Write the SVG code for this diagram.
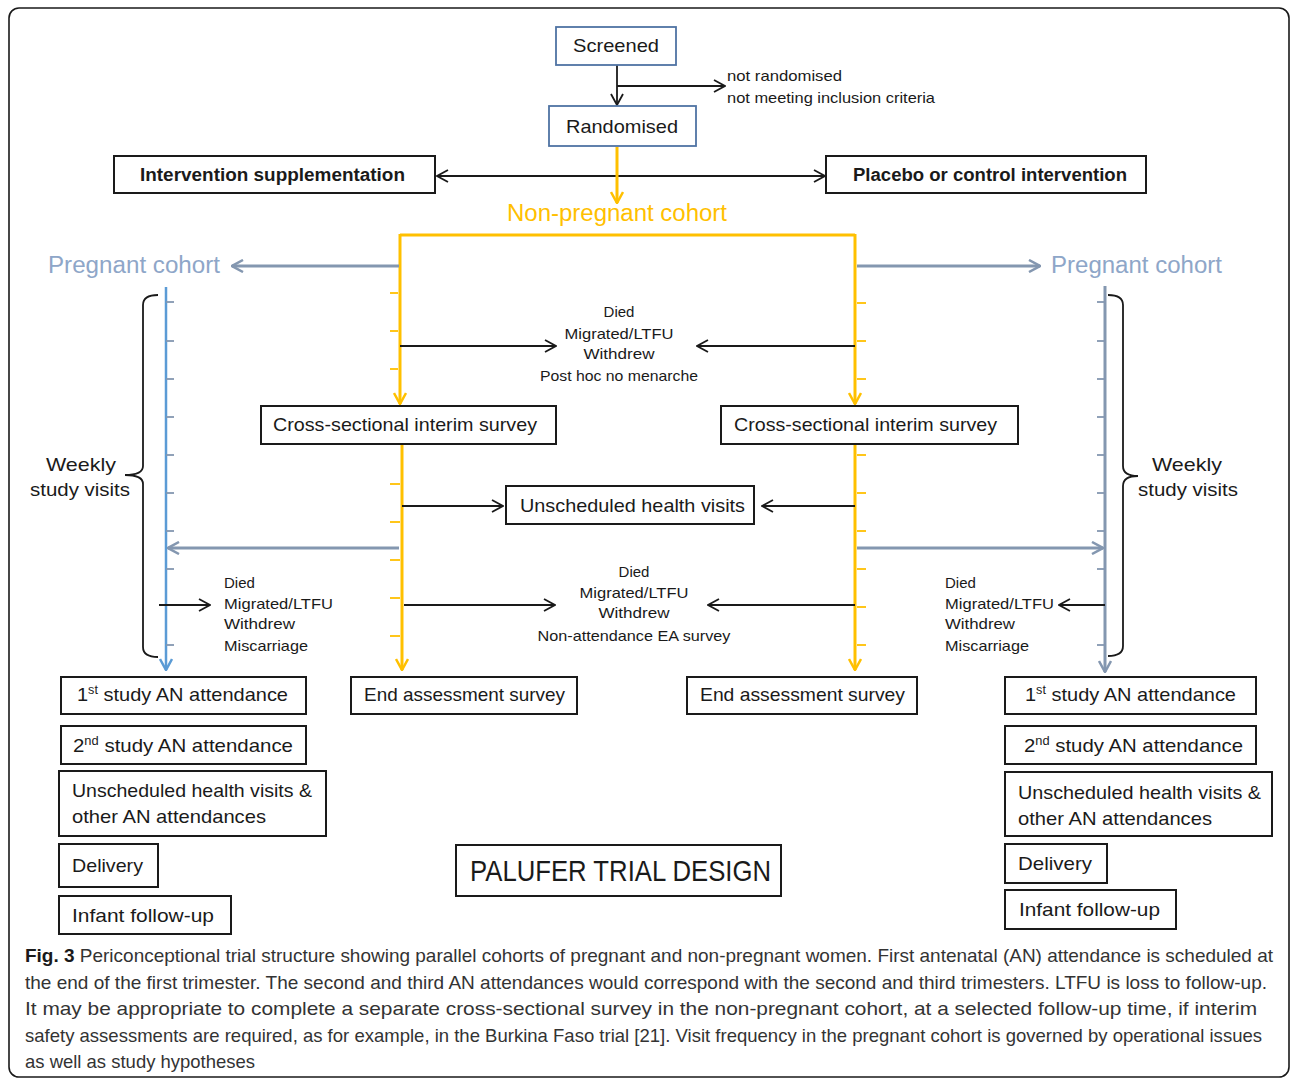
<svg xmlns="http://www.w3.org/2000/svg" width="1292" height="1080" viewBox="0 0 1292 1080">
<style>
text{font-family:"Liberation Sans",Arial,sans-serif;fill:#1a1a1a}
.box{fill:#fff;stroke:#1a1a1a;stroke-width:2}
.bbox{fill:#fff;stroke:#4f73a3;stroke-width:1.8}
.lbl{font-size:19px}
.bold{font-weight:bold;font-size:18px}
.sm{font-size:15px}
.cap{font-size:19px;fill:#333}
.blk{stroke:#1a1a1a;stroke-width:1.8;fill:none}
.yel{stroke:#FFC000;stroke-width:3;fill:none}
.gry{stroke:#8497B0;stroke-width:3;fill:none}
.blu{stroke:#5B9BD5;stroke-width:2.5;fill:none}
.tk{stroke-width:1.8}
.brace{stroke:#1a1a1a;stroke-width:1.8;fill:none}
.yt{fill:#FFC000}
.pt{fill:#8EA6C8}
</style>
<defs>
<marker id="ab" viewBox="0 0 13 14" refX="12" refY="7" markerWidth="13" markerHeight="14" markerUnits="userSpaceOnUse" orient="auto-start-reverse"><path d="M1,1 L12,7 L1,13" fill="none" stroke="#1a1a1a" stroke-width="1.8"/></marker>
<marker id="ay" viewBox="0 0 13 14" refX="12" refY="7" markerWidth="13" markerHeight="14" markerUnits="userSpaceOnUse" orient="auto"><path d="M1,1 L12,7 L1,13" fill="none" stroke="#FFC000" stroke-width="2.5"/></marker>
<marker id="ag" viewBox="0 0 13 14" refX="12" refY="7" markerWidth="13" markerHeight="14" markerUnits="userSpaceOnUse" orient="auto"><path d="M1,1 L12,7 L1,13" fill="none" stroke="#8497B0" stroke-width="2.5"/></marker>
<marker id="abl" viewBox="0 0 13 14" refX="12" refY="7" markerWidth="13" markerHeight="14" markerUnits="userSpaceOnUse" orient="auto"><path d="M1,1 L12,7 L1,13" fill="none" stroke="#5B9BD5" stroke-width="2.5"/></marker>
</defs>
<rect x="9" y="8" width="1280" height="1069" rx="10" fill="#fff" stroke="#1a1a1a" stroke-width="1.6"/>

<g id="connectors">
<line class="blk" x1="617" y1="65" x2="617" y2="105" marker-end="url(#ab)"/>
<line class="blk" x1="617" y1="86" x2="725" y2="86" marker-end="url(#ab)"/>
<line class="blk" x1="437" y1="176" x2="825" y2="176" marker-start="url(#ab)" marker-end="url(#ab)"/>
<line class="yel" x1="617" y1="147" x2="617" y2="203" marker-end="url(#ay)"/>
<line class="yel" x1="400" y1="235" x2="855" y2="235"/>
<line class="yel" x1="400" y1="234" x2="400" y2="404" marker-end="url(#ay)"/>
<line class="yel" x1="855" y1="234" x2="855" y2="404" marker-end="url(#ay)"/>
<line class="yel" x1="402" y1="445" x2="402" y2="670" marker-end="url(#ay)"/>
<line class="yel" x1="855" y1="445" x2="855" y2="670" marker-end="url(#ay)"/>
<g stroke="#FFC000" class="tk">
<line x1="390" y1="293" x2="398" y2="293"/><line x1="390" y1="331" x2="398" y2="331"/><line x1="390" y1="369" x2="398" y2="369"/>
<line x1="390" y1="484" x2="400" y2="484"/><line x1="390" y1="522" x2="400" y2="522"/><line x1="390" y1="560" x2="400" y2="560"/><line x1="390" y1="598" x2="400" y2="598"/><line x1="390" y1="636" x2="400" y2="636"/>
<line x1="857" y1="303" x2="866" y2="303"/><line x1="857" y1="341" x2="866" y2="341"/><line x1="857" y1="379" x2="866" y2="379"/>
<line x1="857" y1="455" x2="866" y2="455"/><line x1="857" y1="493" x2="866" y2="493"/><line x1="857" y1="531" x2="866" y2="531"/><line x1="857" y1="569" x2="866" y2="569"/><line x1="857" y1="607" x2="866" y2="607"/><line x1="857" y1="645" x2="866" y2="645"/>
</g>
<line class="gry" x1="399" y1="266" x2="232" y2="266" marker-end="url(#ag)"/>
<line class="gry" x1="857" y1="266" x2="1040" y2="266" marker-end="url(#ag)"/>
<line class="blu" x1="166" y1="287" x2="166" y2="670" marker-end="url(#abl)"/>
<line class="gry" x1="1105" y1="286" x2="1105" y2="672" marker-end="url(#ag)"/>
<g stroke="#8497B0" class="tk">
<line x1="166" y1="302" x2="174" y2="302"/><line x1="166" y1="341" x2="174" y2="341"/><line x1="166" y1="379" x2="174" y2="379"/><line x1="166" y1="417" x2="174" y2="417"/><line x1="166" y1="455" x2="174" y2="455"/><line x1="166" y1="493" x2="174" y2="493"/><line x1="166" y1="531" x2="174" y2="531"/><line x1="166" y1="569" x2="174" y2="569"/><line x1="166" y1="645" x2="174" y2="645"/>
<line x1="1097" y1="302" x2="1105" y2="302"/><line x1="1097" y1="341" x2="1105" y2="341"/><line x1="1097" y1="379" x2="1105" y2="379"/><line x1="1097" y1="417" x2="1105" y2="417"/><line x1="1097" y1="455" x2="1105" y2="455"/><line x1="1097" y1="493" x2="1105" y2="493"/><line x1="1097" y1="531" x2="1105" y2="531"/><line x1="1097" y1="569" x2="1105" y2="569"/><line x1="1097" y1="645" x2="1105" y2="645"/>
</g>
<line class="gry" x1="399" y1="548" x2="168" y2="548" marker-end="url(#ag)"/>
<line class="gry" x1="857" y1="548" x2="1103" y2="548" marker-end="url(#ag)"/>
<line class="blk" x1="400" y1="346" x2="556" y2="346" marker-end="url(#ab)"/>
<line class="blk" x1="855" y1="346" x2="697" y2="346" marker-end="url(#ab)"/>
<line class="blk" x1="402" y1="506" x2="503" y2="506" marker-end="url(#ab)"/>
<line class="blk" x1="855" y1="506" x2="762" y2="506" marker-end="url(#ab)"/>
<line class="blk" x1="404" y1="605" x2="555" y2="605" marker-end="url(#ab)"/>
<line class="blk" x1="855" y1="605" x2="708" y2="605" marker-end="url(#ab)"/>
<line class="blk" x1="159" y1="605" x2="210" y2="605" marker-end="url(#ab)"/>
<line class="blk" x1="1105" y1="605" x2="1059" y2="605" marker-end="url(#ab)"/>
<path class="brace" d="M158,295 Q143,295 143,305 L143,466 Q143,475 125,475 Q143,475 143,484 L143,647 Q143,657 158,657"/>
<path class="brace" d="M1108,295 Q1123,295 1123,305 L1123,466 Q1123,476 1138,476 Q1123,476 1123,486 L1123,646 Q1123,656 1108,656"/>
</g>

<g id="screened"><rect class="bbox" x="556" y="27" width="120" height="38"/><text class="lbl" x="616" y="52" text-anchor="middle" textLength="86" lengthAdjust="spacingAndGlyphs">Screened</text></g>
<g id="excluded"><text class="sm" x="727" y="81" textLength="115" lengthAdjust="spacingAndGlyphs">not randomised</text><text class="sm" x="727" y="103" textLength="208" lengthAdjust="spacingAndGlyphs">not meeting inclusion criteria</text></g>
<g id="randomised"><rect class="bbox" x="549" y="106" width="147" height="40"/><text class="lbl" x="622" y="133" text-anchor="middle" textLength="112" lengthAdjust="spacingAndGlyphs">Randomised</text></g>
<g id="intervention"><rect class="box" x="114" y="156" width="321" height="37"/><text class="bold" x="140" y="181" textLength="265" lengthAdjust="spacingAndGlyphs">Intervention supplementation</text></g>
<g id="placebo"><rect class="box" x="826" y="156" width="320" height="37"/><text class="bold" x="853" y="181" textLength="274" lengthAdjust="spacingAndGlyphs">Placebo or control intervention</text></g>
<g id="nonpregnant"><text class="yt" x="507" y="221" font-size="23" textLength="220" lengthAdjust="spacingAndGlyphs">Non-pregnant cohort</text></g>
<g id="pregnant-left"><text class="pt" x="48" y="273" font-size="23" textLength="172" lengthAdjust="spacingAndGlyphs">Pregnant cohort</text></g>
<g id="pregnant-right"><text class="pt" x="1051" y="273" font-size="23" textLength="171" lengthAdjust="spacingAndGlyphs">Pregnant cohort</text></g>
<g id="weekly-left"><text class="lbl" x="46" y="471" textLength="70" lengthAdjust="spacingAndGlyphs">Weekly</text><text class="lbl" x="30" y="496" textLength="100" lengthAdjust="spacingAndGlyphs">study visits</text></g>
<g id="weekly-right"><text class="lbl" x="1152" y="471" textLength="70" lengthAdjust="spacingAndGlyphs">Weekly</text><text class="lbl" x="1138" y="496" textLength="100" lengthAdjust="spacingAndGlyphs">study visits</text></g>
<g id="losses-top" class="sm"><text class="sm" x="619" y="317" text-anchor="middle">Died</text><text class="sm" x="619" y="339" text-anchor="middle" textLength="109" lengthAdjust="spacingAndGlyphs">Migrated/LTFU</text><text class="sm" x="619" y="359" text-anchor="middle" textLength="71" lengthAdjust="spacingAndGlyphs">Withdrew</text><text class="sm" x="619" y="381" text-anchor="middle" textLength="158" lengthAdjust="spacingAndGlyphs">Post hoc no menarche</text></g>
<g id="cs-left"><rect class="box" x="261" y="406" width="295" height="38"/><text class="lbl" x="273" y="431" textLength="264" lengthAdjust="spacingAndGlyphs">Cross-sectional interim survey</text></g>
<g id="cs-right"><rect class="box" x="721" y="406" width="297" height="38"/><text class="lbl" x="734" y="431" textLength="263" lengthAdjust="spacingAndGlyphs">Cross-sectional interim survey</text></g>
<g id="unscheduled"><rect class="box" x="506" y="486" width="248" height="38"/><text class="lbl" x="520" y="512" textLength="225" lengthAdjust="spacingAndGlyphs">Unscheduled health visits</text></g>
<g id="losses-mid"><text class="sm" x="634" y="577" text-anchor="middle">Died</text><text class="sm" x="634" y="598" text-anchor="middle" textLength="109" lengthAdjust="spacingAndGlyphs">Migrated/LTFU</text><text class="sm" x="634" y="618" text-anchor="middle" textLength="71" lengthAdjust="spacingAndGlyphs">Withdrew</text><text class="sm" x="634" y="641" text-anchor="middle" textLength="193" lengthAdjust="spacingAndGlyphs">Non-attendance EA survey</text></g>
<g id="losses-left"><text class="sm" x="224" y="588">Died</text><text class="sm" x="224" y="609" textLength="109" lengthAdjust="spacingAndGlyphs">Migrated/LTFU</text><text class="sm" x="224" y="629" textLength="71" lengthAdjust="spacingAndGlyphs">Withdrew</text><text class="sm" x="224" y="651" textLength="84" lengthAdjust="spacingAndGlyphs">Miscarriage</text></g>
<g id="losses-right"><text class="sm" x="945" y="588">Died</text><text class="sm" x="945" y="609" textLength="109" lengthAdjust="spacingAndGlyphs">Migrated/LTFU</text><text class="sm" x="945" y="629" textLength="70" lengthAdjust="spacingAndGlyphs">Withdrew</text><text class="sm" x="945" y="651" textLength="84" lengthAdjust="spacingAndGlyphs">Miscarriage</text></g>
<g id="an1-left"><rect class="box" x="61" y="677" width="245" height="37"/><text class="lbl" x="77" y="701" textLength="211" lengthAdjust="spacingAndGlyphs">1<tspan font-size="12" baseline-shift="super">st</tspan> study AN attendance</text></g>
<g id="ea-left"><rect class="box" x="351" y="677" width="226" height="37"/><text class="lbl" x="364" y="701" textLength="201" lengthAdjust="spacingAndGlyphs">End assessment survey</text></g>
<g id="ea-right"><rect class="box" x="687" y="677" width="230" height="37"/><text class="lbl" x="700" y="701" textLength="205" lengthAdjust="spacingAndGlyphs">End assessment survey</text></g>
<g id="an1-right"><rect class="box" x="1005" y="677" width="251" height="37"/><text class="lbl" x="1025" y="701" textLength="211" lengthAdjust="spacingAndGlyphs">1<tspan font-size="12" baseline-shift="super">st</tspan> study AN attendance</text></g>
<g id="an2-left"><rect class="box" x="61" y="726" width="245" height="38"/><text class="lbl" x="73" y="752" textLength="220" lengthAdjust="spacingAndGlyphs">2<tspan font-size="12" baseline-shift="super">nd</tspan> study AN attendance</text></g>
<g id="an2-right"><rect class="box" x="1005" y="726" width="251" height="38"/><text class="lbl" x="1024" y="752" textLength="219" lengthAdjust="spacingAndGlyphs">2<tspan font-size="12" baseline-shift="super">nd</tspan> study AN attendance</text></g>
<g id="other-left"><rect class="box" x="59" y="771" width="267" height="65"/><text class="lbl" x="72" y="797" textLength="240" lengthAdjust="spacingAndGlyphs">Unscheduled health visits &amp;</text><text class="lbl" x="72" y="823" textLength="194" lengthAdjust="spacingAndGlyphs">other AN attendances</text></g>
<g id="other-right"><rect class="box" x="1005" y="772" width="267" height="64"/><text class="lbl" x="1018" y="799" textLength="243" lengthAdjust="spacingAndGlyphs">Unscheduled health visits &amp;</text><text class="lbl" x="1018" y="825" textLength="194" lengthAdjust="spacingAndGlyphs">other AN attendances</text></g>
<g id="delivery-left"><rect class="box" x="59" y="844" width="99" height="43"/><text class="lbl" x="72" y="872" textLength="71" lengthAdjust="spacingAndGlyphs">Delivery</text></g>
<g id="delivery-right"><rect class="box" x="1005" y="844" width="102" height="39"/><text class="lbl" x="1018" y="870" textLength="74" lengthAdjust="spacingAndGlyphs">Delivery</text></g>
<g id="infant-left"><rect class="box" x="59" y="896" width="172" height="38"/><text class="lbl" x="72" y="922" textLength="142" lengthAdjust="spacingAndGlyphs">Infant follow-up</text></g>
<g id="infant-right"><rect class="box" x="1005" y="890" width="171" height="39"/><text class="lbl" x="1019" y="916" textLength="141" lengthAdjust="spacingAndGlyphs">Infant follow-up</text></g>
<g id="title"><rect class="box" x="456" y="845" width="325" height="51"/><text x="470" y="881" font-size="29" textLength="301" lengthAdjust="spacingAndGlyphs">PALUFER TRIAL DESIGN</text></g>

<g id="caption">
<text class="cap" x="25" y="962" textLength="1248" lengthAdjust="spacingAndGlyphs"><tspan font-weight="bold" fill="#1a1a1a">Fig. 3</tspan> Periconceptional trial structure showing parallel cohorts of pregnant and non-pregnant women. First antenatal (AN) attendance is scheduled at</text>
<text class="cap" x="25" y="989" textLength="1242" lengthAdjust="spacingAndGlyphs">the end of the first trimester. The second and third AN attendances would correspond with the second and third trimesters. LTFU is loss to follow-up.</text>
<text class="cap" x="25" y="1015" textLength="1232" lengthAdjust="spacingAndGlyphs">It may be appropriate to complete a separate cross-sectional survey in the non-pregnant cohort, at a selected follow-up time, if interim</text>
<text class="cap" x="25" y="1042" textLength="1237" lengthAdjust="spacingAndGlyphs">safety assessments are required, as for example, in the Burkina Faso trial [21]. Visit frequency in the pregnant cohort is governed by operational issues</text>
<text class="cap" x="25" y="1068" textLength="230" lengthAdjust="spacingAndGlyphs">as well as study hypotheses</text>
</g>
</svg>
